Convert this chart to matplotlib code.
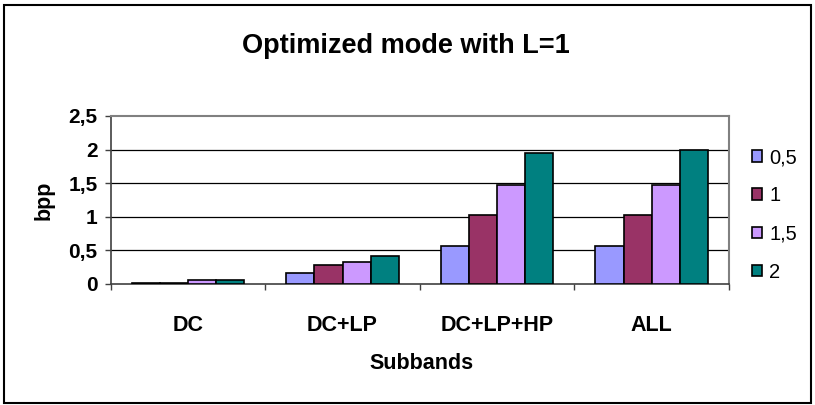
import numpy as np
import matplotlib
matplotlib.use('Agg')
import matplotlib.pyplot as plt
from matplotlib.patches import Rectangle

plt.rcParams['font.family'] = ['Liberation Sans', 'DejaVu Sans']

# data
categories = ['DC', 'DC+LP', 'DC+LP+HP', 'ALL']
series_names = ['0,5', '1', '1,5', '2']
vals_05 = [0.02, 0.16, 0.56, 0.56]
vals_1 = [0.02, 0.28, 1.02, 1.02]
vals_15 = [0.06, 0.33, 1.47, 1.47]
vals_2 = [0.06, 0.42, 1.95, 2.00]
colors = ['#9999FF', '#993366', '#CC99FF', '#008080']
yticks = [0, 0.5, 1, 1.5, 2, 2.5]
ytick_labels = ['0', '0,5', '1', '1,5', '2', '2,5']

fig = plt.figure(figsize=(8.15, 4.05), dpi=100)
ax = fig.add_axes([0.1358, 0.2988, 0.7587, 0.4148])

x = np.arange(len(categories))
w = 0.182
all_vals = [vals_05, vals_1, vals_15, vals_2]
handles = []
for i, v in enumerate(all_vals):
    b = ax.bar(x + (i - 1.5) * w, v, w, color=colors[i], edgecolor='black',
               linewidth=1.2, zorder=3, label=series_names[i])
    handles.append(b)

ax.set_xlim(-0.5, 3.5)
ax.set_ylim(0, 2.5)
ax.set_yticks(yticks)
ax.set_yticklabels(ytick_labels, fontsize=15, fontweight='bold')
for yv in yticks[1:-1]:
    ax.axhline(yv, color='black', lw=0.9, zorder=1)

# category boundaries get the tick marks, names sit in between
ax.set_xticks([-0.5, 0.5, 1.5, 2.5, 3.5])
ax.set_xticklabels([])
ax.set_xticks(x, minor=True)
ax.set_xticklabels(categories, minor=True, fontsize=15.5, fontweight='bold')
ax.tick_params(axis='x', which='minor', length=0, pad=22)
ax.tick_params(axis='both', which='major', direction='out', length=4.5, width=1, color='#404040')
ax.tick_params(axis='y', pad=5)

for s in ['top', 'right']:
    ax.spines[s].set_color('#808080')
    ax.spines[s].set_linewidth(1.5)
for s in ['left', 'bottom']:
    ax.spines[s].set_color('#404040')
    ax.spines[s].set_linewidth(1.2)

ax.set_ylabel('bpp', fontsize=15.5, fontweight='bold', labelpad=10)
fig.text(0.5175, 0.088, 'Subbands', ha='center', va='baseline', fontsize=15.5, fontweight='bold')
fig.text(0.498, 0.868, 'Optimized mode with L=1', ha='center', va='baseline',
         fontsize=19.5, fontweight='bold')

leg = fig.legend(handles=handles, labels=series_names, loc='upper left',
                 bbox_to_anchor=(0.913, 0.654), frameon=False, fontsize=14.5,
                 handlelength=0.5, handleheight=0.5, handletextpad=0.35,
                 labelspacing=0.95, borderaxespad=0)

# outer chart border
fig.patches.append(Rectangle((0.005, 0.006), 0.99, 0.982, transform=fig.transFigure,
                             fill=False, edgecolor='black', lw=1.5))

fig.savefig('out.png', dpi=100)
